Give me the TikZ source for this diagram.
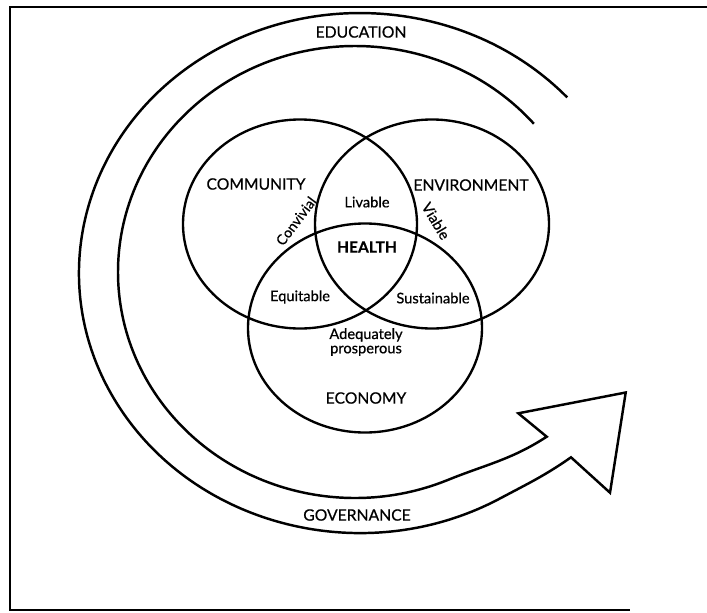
\documentclass[tikz,border=0pt]{standalone}
\usepackage{fontspec}
\setmainfont{Lato}[FakeBold=0.6]
\usepackage{tikz}
\usetikzlibrary{shapes.geometric}

\tikzstyle{ring} = [ellipse, draw, line width=2pt, minimum width=7.02cm, minimum height=6.27cm, inner sep=0pt]
\tikzstyle{bigtag} = [font=\fontsize{13.4}{15}\selectfont, inner sep=1pt]
\tikzstyle{smalltag} = [font=\fontsize{12.5}{12.2}\selectfont, inner sep=1pt]
\tikzstyle{band} = [line width=2.1pt, line join=miter]
\tikzstyle{frame} = [line width=2.2pt]

\begin{document}
\begin{tikzpicture}[x=0.03cm, y=0.03cm]
\useasboundingbox (0,0) rectangle (707,-612);
% Frame
\draw[frame] (707,-7) -- (10,-7) -- (10,-610) -- (630,-610);

% Spiral arrow
\coordinate (notchA) at (546.7,-436.7);
\coordinate (barbA) at (518.3,-413.3);
\coordinate (tip) at (625.7,-392.5);
\coordinate (barbB) at (610,-492.7);
\coordinate (notchB) at (571,-457.3);
\coordinate (outerlow) at (500.5,-498.2);
\draw[band] (355,-272) ++(41:237 and 226)
  arc[start angle=41, end angle=293, x radius=237, y radius=226]
  to[out=22, in=213] (notchA) -- (barbA) -- (tip) -- (barbB) -- (notchB)
  to[out=215, in=28] (outerlow)
  arc[start angle=300, end angle=42.5, x radius=281, y radius=260];

% Circles
\node[ring] (commring) at (300,-224) {};
\node[ring] (envring) at (432,-224) {};
\node[ring] (ecoring) at (365,-328) {};

% Labels
\node[bigtag] (edu) at (361,-32) {EDUCATION};
\node[bigtag] (gov) at (357,-515) {GOVERNANCE};
\node[bigtag] (community) at (256,-184) {COMMUNITY};
\node[bigtag] (environment) at (471,-185) {ENVIRONMENT};
\node[bigtag] (economy) at (366,-398) {ECONOMY};
\node[bigtag, font=\fontsize{13.3}{15}\selectfont\bfseries] (health) at (367,-247) {HEALTH};
\node[smalltag] (livable) at (367,-202) {Livable};
\node[smalltag, rotate=53, font=\fontsize{12}{12}\selectfont, inner sep=0pt] (convivial) at (296,-221) {Convivial};
\node[smalltag, rotate=-59, inner sep=0pt] (viable) at (436,-221) {Viable};
\node[smalltag] (equitable) at (300,-297) {Equitable};
\node[smalltag] (sustainable) at (433,-298) {Sustainable};
\node[smalltag, align=center] (prosperous) at (366,-342) {Adequately\\prosperous};
\end{tikzpicture}
\end{document}
